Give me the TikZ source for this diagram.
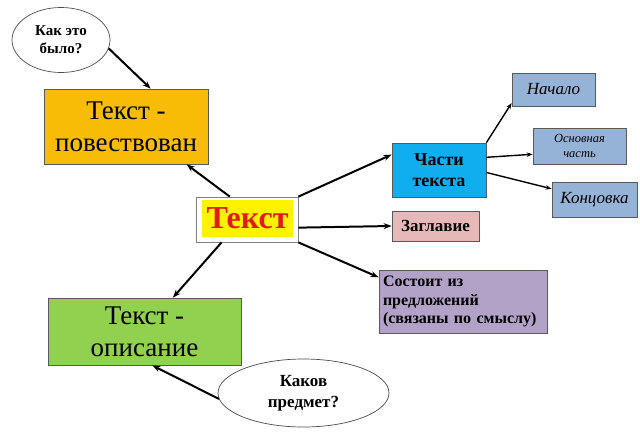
\documentclass[tikz,border=0pt]{standalone}
\usepackage{fontspec}
\setmainfont{Liberation Serif}
\usetikzlibrary{shapes.geometric,arrows.meta}
\definecolor{orbox}{HTML}{F9BC06}
\definecolor{grbox}{HTML}{92D050}
\definecolor{cybox}{HTML}{10AEEC}
\definecolor{pkbox}{HTML}{E6B9B8}
\definecolor{lvbox}{HTML}{B3A2C7}
\definecolor{blbox}{HTML}{95B3D7}
\definecolor{txred}{HTML}{E21A1A}
\tikzset{
  box/.style={draw=black!65, line width=0.8pt, inner sep=0pt, align=center},
  bub/.style={ellipse, draw=black!70, line width=0.7pt, fill=white, inner sep=0pt, align=center},
  arr/.style={-{Stealth[length=8pt,width=6pt]}, line width=2pt},
  arrs/.style={-{Stealth[length=6pt,width=4.5pt]}, line width=1.4pt},
}
\begin{document}
\begin{tikzpicture}[x=1pt,y=-1pt]
\useasboundingbox[fill=white] (0,0) rectangle (640,434);
% nodes
\node[box, fill=orbox, minimum width=164, minimum height=75, font=\fontsize{27}{32}\selectfont] (or) at (126,126.5) {Текст -\\повествован};
\node[bub, minimum width=98, minimum height=65, font=\fontsize{15}{18}\selectfont\bfseries] (e1) at (61,40) {Как это\\было?};
\node[box, fill=white, draw=black!50, minimum width=102, minimum height=45] (c) at (247,219.5) {};
\node[fill=yellow, inner sep=0pt, minimum width=91, minimum height=37, text=txred, font=\fontsize{32}{34}\selectfont\bfseries] (ct) at (247.5,218.5) {Текст};
\node[box, fill=grbox, minimum width=193, minimum height=67, font=\fontsize{27}{32}\selectfont] (gr) at (144.5,331.5) {Текст -\\описание};
\node[bub, minimum width=171, minimum height=68, font=\fontsize{17}{21}\selectfont\bfseries] (e2) at (303.5,393) {Каков\\предмет?};
\node[box, fill=cybox, minimum width=94, minimum height=54, font=\fontsize{18}{21}\selectfont\bfseries] (ch) at (439,170) {Части\\текста};
\node[box, fill=pkbox, minimum width=87, minimum height=30, font=\fontsize{17}{19}\selectfont\bfseries] (z) at (435.5,226) {Заглавие};
\node[box, fill=lvbox, minimum width=168, minimum height=63, align=left, text width=160, font=\fontsize{16}{18.5}\selectfont\bfseries] (s) at (463,301.5) {Состоит из\\предложений\\(связаны по смыслу)};
\node[box, fill=blbox, minimum width=83, minimum height=33, font=\fontsize{17}{19}\selectfont\itshape] (n) at (553.5,89.5) {Начало};
\node[box, fill=blbox, minimum width=93, minimum height=36, font=\fontsize{12.5}{15}\selectfont\itshape] (o) at (579.5,146) {Основная\\часть};
\node[box, fill=blbox, minimum width=85, minimum height=35, font=\fontsize{17}{19}\selectfont\itshape] (k) at (594.5,199.5) {Концовка};
% connectors
\draw[arr] (e1.-10) -- (or.57);
\draw[arr] (c.127) -- (or.-32);
\draw[arr] (c.-138) -- (gr.50);
\draw[arr] (e2.184) -- (gr.-77);
\draw[arr] (c.north east) -- (ch.162);
\draw[arr] (c.-9.5) -- (z.west);
\draw[arr] (c.south east) -- (s.164);
\draw[arrs] (ch.north east) -- (n.198);
\draw[arrs] (ch.15.5) -- (o.190);
\draw[arrs] (ch.-3.7) -- (k.166);
\end{tikzpicture}
\end{document}
